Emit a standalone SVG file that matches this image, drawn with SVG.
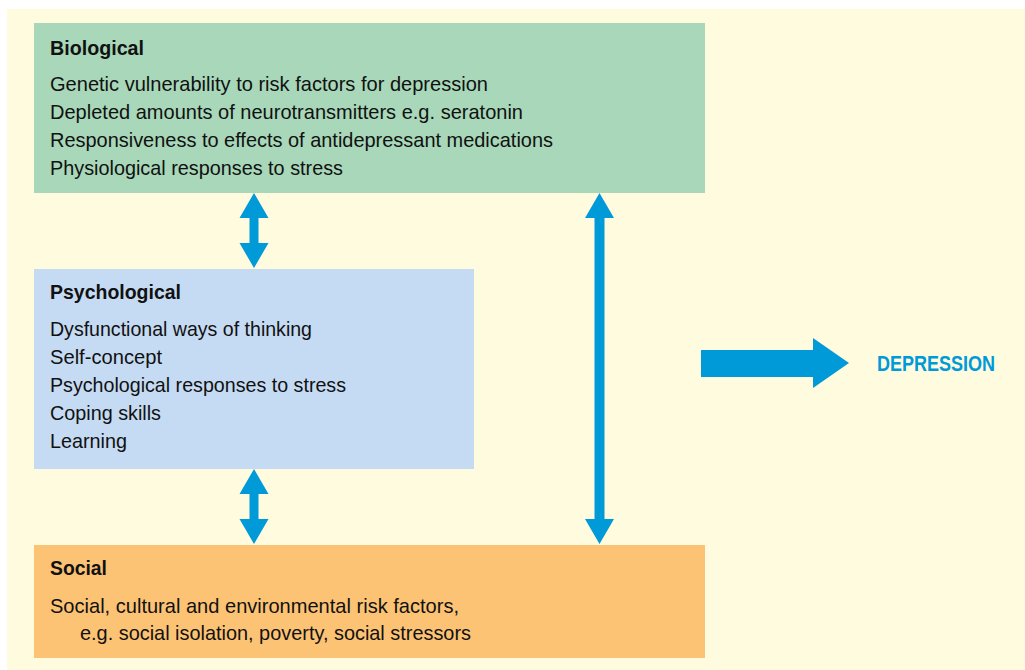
<svg xmlns="http://www.w3.org/2000/svg" width="1025" height="670" viewBox="0 0 1025 670">
<style>
.t{font-family:"Liberation Sans Narrow","Liberation Sans",Arial,sans-serif;font-size:21px;fill:#111}
.h{font-weight:bold}
.arr{fill:#009ad9}
</style>
<rect x="0" y="0" width="1025" height="670" fill="#ffffff"/>
<rect x="7" y="9" width="1018" height="661" fill="#fffbdf"/>
<g id="biological">
<rect x="34" y="23" width="671" height="170" fill="#a8d8b9"/>
<text class="t h" x="50" y="55" textLength="94" lengthAdjust="spacingAndGlyphs">Biological</text>
<text class="t" x="50" y="91" textLength="438" lengthAdjust="spacingAndGlyphs">Genetic vulnerability to risk factors for depression</text>
<text class="t" x="50" y="119" textLength="473" lengthAdjust="spacingAndGlyphs">Depleted amounts of neurotransmitters e.g. seratonin</text>
<text class="t" x="50" y="147" textLength="503" lengthAdjust="spacingAndGlyphs">Responsiveness to effects of antidepressant medications</text>
<text class="t" x="50" y="175" textLength="293" lengthAdjust="spacingAndGlyphs">Physiological responses to stress</text>
</g>
<g id="psychological">
<rect x="34" y="269" width="440" height="200" fill="#c5dbf3"/>
<text class="t h" x="50" y="299" textLength="131" lengthAdjust="spacingAndGlyphs">Psychological</text>
<text class="t" x="50" y="336" textLength="262" lengthAdjust="spacingAndGlyphs">Dysfunctional ways of thinking</text>
<text class="t" x="50" y="364" textLength="112" lengthAdjust="spacingAndGlyphs">Self-concept</text>
<text class="t" x="50" y="392" textLength="296" lengthAdjust="spacingAndGlyphs">Psychological responses to stress</text>
<text class="t" x="50" y="420" textLength="111" lengthAdjust="spacingAndGlyphs">Coping skills</text>
<text class="t" x="50" y="448" textLength="77" lengthAdjust="spacingAndGlyphs">Learning</text>
</g>
<g id="social">
<rect x="34" y="545" width="671" height="113" fill="#fdc374"/>
<text class="t h" x="50" y="575" textLength="57" lengthAdjust="spacingAndGlyphs">Social</text>
<text class="t" x="50" y="613" textLength="409" lengthAdjust="spacingAndGlyphs">Social, cultural and environmental risk factors,</text>
<text class="t" x="80" y="640" textLength="391" lengthAdjust="spacingAndGlyphs">e.g. social isolation, poverty, social stressors</text>
</g>
<g id="depression">
<text x="877" y="371" font-family="'Liberation Sans Narrow','Liberation Sans',Arial,sans-serif" font-size="22" font-weight="bold" fill="#009ad9" textLength="118" lengthAdjust="spacingAndGlyphs">DEPRESSION</text>
</g>
<g id="connectors">
<polygon class="arr" points="254,193 268.5,218 258.5,218 258.5,243 268.5,243 254,268 239.5,243 249.5,243 249.5,218 239.5,218"/>
<polygon class="arr" points="254,469 268.5,494 258.5,494 258.5,519 268.5,519 254,544 239.5,519 249.5,519 249.5,494 239.5,494"/>
<polygon class="arr" points="599.5,193 614,218 604.5,218 604.5,519 614,519 599.5,544 585,519 594.5,519 594.5,218 585,218"/>
<polygon class="arr" points="701,350 813,350 813,338 849,363 813,388 813,377 701,377"/>
</g>
</svg>
